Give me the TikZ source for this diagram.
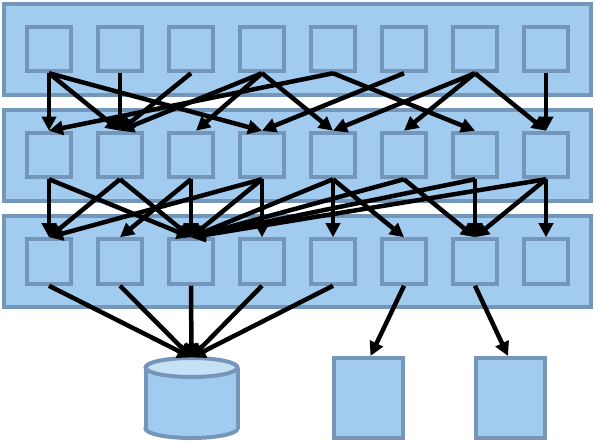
\documentclass[tikz,border=0pt]{standalone}
\usetikzlibrary{arrows.meta}
\definecolor{boxfill}{RGB}{161,203,239}
\definecolor{boxline}{RGB}{116,150,184}
\definecolor{cyltop}{RGB}{198,224,245}
\begin{document}
\begin{tikzpicture}[x=1bp,y=-1bp,
  layer/.style={draw=boxline, fill=boxfill, line width=4bp, minimum width=587bp, minimum height=91bp, inner sep=0},
  cell/.style={draw=boxline, fill=boxfill, line width=4bp, minimum width=44.5bp, minimum height=44.5bp, inner sep=0},
  store/.style={draw=boxline, fill=boxfill, line width=4bp, minimum width=69bp, minimum height=80bp, inner sep=0},
  cylpart/.style={draw=boxline, line width=4bp},
  conn/.style={line width=4.5bp, -{Triangle[length=14bp,width=14bp]}}
]
\useasboundingbox (0,0) rectangle (595,442);
\node[layer] (L1) at (297.5,49.5) {};
\node[layer] (L2) at (297.5,155.5) {};
\node[layer] (L3) at (297.5,261.5) {};
\foreach \i in {1,...,8} {
  \node[cell] (a\i) at ({49+71*(\i-1)},49) {};
  \node[cell] (b\i) at ({49+71*(\i-1)},155) {};
  \node[cell] (c\i) at ({49+71*(\i-1)},261.5) {};
}
% cylinder
\fill[boxfill, cylpart] (191.5,428.5) ellipse [x radius=46bp, y radius=9.5bp];
\fill[boxfill] (145.5,367.5) rectangle (237.5,428.5);
\draw[cylpart] (145.5,367.5) -- (145.5,428.5);
\draw[cylpart] (237.5,367.5) -- (237.5,428.5);
\filldraw[cyltop, cylpart] (191.5,367.5) ellipse [x radius=46bp, y radius=9.5bp];
\node[minimum width=92bp, minimum height=82bp, inner sep=0, outer sep=0] (db) at (191.5,398.5) {};
\node[store] (r1) at (368.5,398) {};
\node[store] (r2) at (510,398) {};
% connectors
\foreach \s/\t in {1/1,1/2,1/4,2/2,3/2,4/2,4/5,5/1,5/7,6/4,7/5,7/6,7/8,8/8}
  \draw[conn] (a\s.south) -- (b\t.north);
\draw[conn] (a4.south) -- ([xshift=5bp]b3.north);
\foreach \s/\t in {1/1,1/3,2/1,2/3,3/2,3/3,4/1,4/3,4/4,5/3,5/5,5/6,6/3,6/7,7/3,7/7,8/3,8/7,8/8}
  \draw[conn] (b\s.south) -- (c\t.north);
\foreach \s in {1,...,5}
  \draw[conn] (c\s.south) -- (db.north);
\draw[conn] (c6.south) -- ([xshift=2bp]r1.north);
\draw[conn] (c7.south) -- ([xshift=-2bp]r2.north);
\end{tikzpicture}
\end{document}
